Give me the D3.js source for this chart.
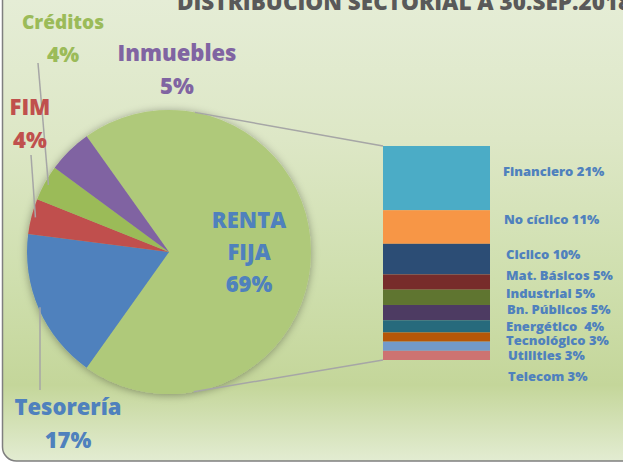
<!DOCTYPE html>
<html>
<head>
<meta charset="utf-8">
<script src="https://cdn.jsdelivr.net/npm/d3@7"></script>
<style>
  body { margin: 0; background: #fff; }
  text { font-family: "Open Sans", sans-serif; font-weight: 800; }
</style>
</head>
<body>
<svg id="chart" width="623" height="464"></svg>
<script>
// pie data
const pieCategories = ["RENTA FIJA", "Tesorería", "FIM", "Créditos", "Inmuebles"];
const pieValues = [69, 17, 4, 4, 5];
const pieColors = ["#afc97a", "#4f81bd", "#c0504d", "#9bbb59", "#8064a2"];
const pieLabelColors = ["#4f81bd", "#4f81bd", "#c0504d", "#9bbb59", "#8064a2"];

// bar (desglose de renta fija)
const barCategories = ["Financiero", "No cíclico", "Ciclico", "Mat. Básicos", "Industrial",
  "Bn. Públicos", "Energético ", "Tecnológico", "Utilities", "Telecom"];
const barValues = [21, 11, 10, 5, 5, 5, 4, 3, 3, 3];
const barColors = ["#4bacc6", "#f79646", "#2c4d75", "#772c2a", "#5f7530",
  "#4d3b62", "#276a7c", "#b65708", "#729aca", "#cd7371"];

const title = "DISTRIBUCIÓN SECTORIAL A 30.SEP.2018";

const svg = d3.select("#chart");
const width = +svg.attr("width");
const height = +svg.attr("height");

const defs = svg.append("defs");

// background gradient
const grad = defs.append("linearGradient")
    .attr("id", "bg")
    .attr("gradientUnits", "userSpaceOnUse")
    .attr("x1", 0).attr("y1", 0).attr("x2", 0).attr("y2", height);
[["0", "#e5edd6"], ["0.3", "#dde7c6"], ["0.6", "#cfdfae"], ["0.83", "#c4d69a"], ["1", "#e4edd4"]]
    .forEach(s => grad.append("stop").attr("offset", s[0]).attr("stop-color", s[1]));

// soft shadow for the pie
const shadow = defs.append("filter").attr("id", "shadow")
    .attr("x", "-20%").attr("y", "-20%").attr("width", "140%").attr("height", "140%");
shadow.append("feDropShadow")
    .attr("dx", 0).attr("dy", 1).attr("stdDeviation", 4)
    .attr("flood-color", "#000").attr("flood-opacity", 0.35);

// chart area frame (cropped at top and right)
svg.append("rect")
    .attr("x", 2.5).attr("y", -30)
    .attr("width", width + 30).attr("height", 491)
    .attr("rx", 14)
    .attr("fill", "url(#bg)")
    .attr("stroke", "#7f7f7f")
    .attr("stroke-width", 1.5);

// title (cut off at top like the source)
svg.append("text")
    .attr("x", 177).attr("y", 10)
    .attr("fill", "#595959")
    .style("font-size", "22.5px")
    .text(title);

// pie
const cx = 169, cy = 252, r = 142;
const total = d3.sum(pieValues);
const start = Math.PI / 2 - (pieValues[0] / total) * Math.PI;
const pie = d3.pie().sort(null).startAngle(start).endAngle(start + 2 * Math.PI);
const arcs = pie(pieValues);
const arc = d3.arc().innerRadius(0).outerRadius(r);

const pieG = svg.append("g").attr("transform", `translate(${cx},${cy})`);

// connector lines from pie to bar
const barX = 383, barW = 107;
const y = d3.scaleLinear().domain([0, d3.sum(barValues)]).range([146, 360]);
const connectAngles = [10.5, 170].map(a => a * Math.PI / 180);
const connectTargets = [y(0), y(d3.sum(barValues))];
connectAngles.forEach((a, i) => {
    svg.append("line")
        .attr("x1", cx + r * Math.sin(a)).attr("y1", cy - r * Math.cos(a))
        .attr("x2", barX).attr("y2", connectTargets[i])
        .attr("stroke", "#a6a6a6").attr("stroke-width", 1.5);
});

pieG.append("g").attr("filter", "url(#shadow)")
    .selectAll("path")
    .data(arcs)
    .enter()
    .append("path")
    .attr("d", arc)
    .attr("fill", (d, i) => pieColors[i]);

// leader lines for the small slices
const leaders = [
    null,
    { x2: 40, y2: 390 },
    { x2: 31, y2: 155 },
    { x2: 38, y2: 63 },
    null
];
arcs.forEach((d, i) => {
    const L = leaders[i];
    if (!L) return;
    const mid = (d.startAngle + d.endAngle) / 2;
    const px = cx + (r - 4) * Math.sin(mid), py = cy - (r - 4) * Math.cos(mid);
    svg.append("line")
        .attr("x1", i === 1 ? L.x2 : px).attr("y1", py)
        .attr("x2", L.x2).attr("y2", L.y2)
        .attr("stroke", "#a6a6a6").attr("stroke-width", 1.5);
});

// pie labels anchored at a centre x and first baseline
const pieLabelPos = [
    { x: 249, y: 228, lines: ["RENTA", "FIJA"] },
    { x: 68, y: 415, lines: ["Tesorería"] },
    { x: 30, y: 115, lines: ["FIM"] },
    { x: 63, y: 29, lines: ["Créditos"] },
    { x: 177, y: 61, lines: ["Inmuebles"] }
];
pieLabelPos.forEach((p, i) => {
    const t = svg.append("text")
        .attr("text-anchor", "middle")
        .attr("fill", pieLabelColors[i])
        .style("font-size", i === 3 ? "19px" : "22px");
    p.lines.concat([pieValues[i] + "%"]).forEach((s, j) => {
        t.append("tspan")
            .attr("x", p.x)
            .attr("y", p.y + j * (i === 0 ? 32 : 33))
            .style("font-size", i === 3 && j === 1 ? "21px" : null)
            .text(s);
    });
});

// stacked bar
const stackEnds = d3.cumsum(barValues);
const segs = barValues.map((v, i) => ({ v, y0: stackEnds[i] - v, y1: stackEnds[i], i }));

svg.append("g").selectAll("rect")
    .data(segs)
    .enter()
    .append("rect")
    .attr("x", barX)
    .attr("y", d => y(d.y0))
    .attr("width", barW)
    .attr("height", d => y(d.y1) - y(d.y0))
    .attr("fill", d => barColors[d.i]);

// labels are spread out beside the bar
const labelNudge = [-7, -8, -5, -7, -4, -3, 0, 3, 9, 21];
const labelX = [503, 504, 506, 506, 506, 507, 506, 506, 508, 508];
svg.append("g").selectAll("text")
    .data(segs)
    .enter()
    .append("text")
    .attr("x", d => labelX[d.i])
    .attr("y", d => (y(d.y0) + y(d.y1)) / 2 + labelNudge[d.i])
    .attr("dy", "0.35em")
    .attr("fill", "#4f81bd")
    .style("font-size", "13px")
    .style("white-space", "pre")
    .text(d => barCategories[d.i] + " " + d.v + "%");
</script>
</body>
</html>
